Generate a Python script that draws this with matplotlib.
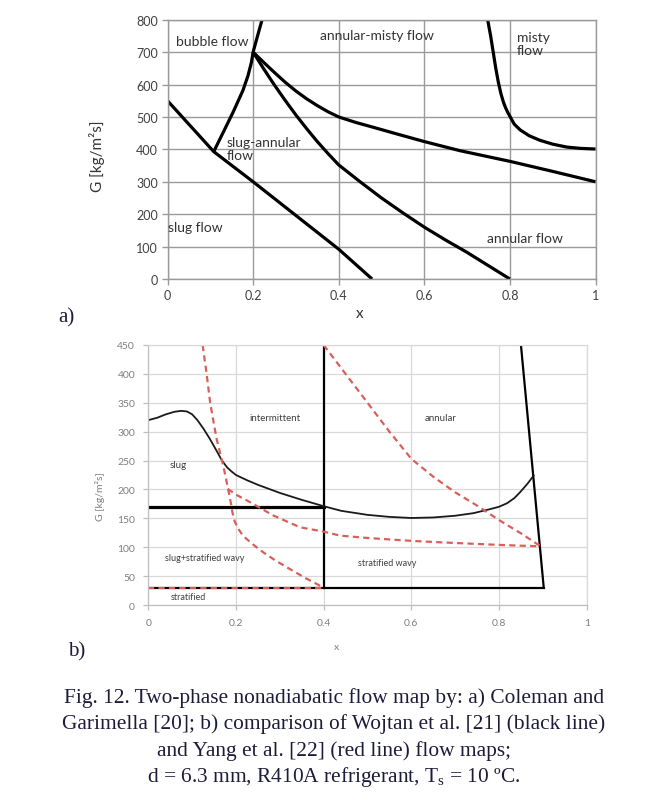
import matplotlib
matplotlib.use("Agg")
import matplotlib.pyplot as plt

plt.rcParams['font.family'] = ['Lato', 'DejaVu Sans']

# ---------------- data: a) Coleman & Garimella ----------------
ca_slug_x = [0, 0.108, 0.2, 0.3, 0.4, 0.478]
ca_slug_g = [550, 393, 300, 196, 92, 0]

ca_bubble_x = [0.108, 0.13, 0.153, 0.176, 0.188, 0.196, 0.2, 0.21, 0.221]
ca_bubble_g = [393, 452, 514, 581, 627, 668, 700, 748, 800]

ca_amisty_x = [0.2, 0.225, 0.25, 0.275, 0.3, 0.325, 0.35, 0.375, 0.4, 0.44, 0.481,
               0.54, 0.6, 0.683, 0.8, 0.9, 1.0]
ca_amisty_g = [700, 668, 637, 607, 580, 556, 535, 516, 500, 483, 468,
               446, 424, 396, 363, 332, 300]

ca_annular_x = [0.2, 0.225, 0.25, 0.275, 0.3, 0.325, 0.35, 0.375, 0.4, 0.45, 0.5,
                0.55, 0.6, 0.65, 0.7, 0.75, 0.8]
ca_annular_g = [700, 648, 598, 551, 506, 464, 424, 387, 352, 300, 250,
                204, 160, 120, 82, 41, 0]

ca_misty_x = [0.748, 0.755, 0.761, 0.767, 0.773, 0.779, 0.785, 0.79, 0.795, 0.8, 0.81,
              0.824, 0.845, 0.87, 0.9, 0.933, 0.965, 1.0]
ca_misty_g = [800, 750, 700, 650, 607, 572, 545, 528, 514, 502, 478,
              460, 442, 428, 416, 407, 403, 401]

# ---------------- data: b) Wojtan (black) & Yang (red) ----------------
wo_curve_x = [0, 0.02, 0.04, 0.06, 0.075, 0.088, 0.1, 0.112, 0.126, 0.14, 0.155, 0.168,
              0.18, 0.19, 0.2, 0.225, 0.25, 0.3, 0.35, 0.4, 0.44, 0.5, 0.55, 0.6, 0.65,
              0.7, 0.742, 0.78, 0.8, 0.818, 0.835, 0.849, 0.865, 0.879]
wo_curve_g = [320, 324, 330, 334.5, 336, 335, 330, 320, 305, 288, 268, 250,
              238, 231, 225, 216, 208, 194, 182, 171, 163, 156, 152.5, 150.6, 151.5,
              154.5, 159, 166, 170, 176, 185, 196, 210, 224]
wo_strat_x = [0, 0.902]
wo_strat_g = [30, 30]
wo_slug_x = [0, 0.4]
wo_slug_g = [170, 170]
wo_vert_x = [0.4, 0.4]
wo_vert_g = [30, 450]
wo_dry_x = [0.850, 0.902]
wo_dry_g = [450, 30]

yang1_x = [0.124, 0.133, 0.141, 0.148, 0.156, 0.164, 0.171, 0.179, 0.1865, 0.192,
           0.197, 0.205, 0.217, 0.24, 0.2626, 0.29, 0.3235, 0.36, 0.4]
yang1_g = [450, 400, 351, 320, 287, 262, 241, 212, 184, 160,
           145, 132, 119, 104, 91, 77, 62, 46, 30]
yang2_x = [0.181, 0.2, 0.232, 0.285, 0.346, 0.4, 0.438, 0.5, 0.6, 0.666, 0.8, 0.895]
yang2_g = [201, 191, 178, 155, 134.5, 127, 120, 116, 111, 108.5, 104, 101.5]
yang3_x = [0.4, 0.45, 0.5, 0.55, 0.6, 0.65, 0.7, 0.75, 0.8, 0.85, 0.895]
yang3_g = [450, 400, 350, 300, 253, 222, 195, 172, 147, 124, 101.5]
yang_strat_x = [0, 0.4]
yang_strat_g = [30, 30]

top_xticks = [0, 0.2, 0.4, 0.6, 0.8, 1]
top_xticklabels = ['0', '0.2', '0.4', '0.6', '0.8', '1']
top_yticks = list(range(0, 801, 100))
bot_xticks = [0, 0.2, 0.4, 0.6, 0.8, 1]
bot_xticklabels = ['0', '0.2', '0.4', '0.6', '0.8', '1']
bot_yticks = list(range(0, 451, 50))

W, H = 658, 803
fig = plt.figure(figsize=(W / 100, H / 100), dpi=100)


def fx(px):
    return px / W


def fy(py):
    return 1 - py / H


# ---------------- top chart ----------------
ax1 = fig.add_axes([fx(167.5), fy(280), (595.5 - 167.5) / W, (280 - 20.7) / H])
ax1.set_xlim(0, 1)
ax1.set_ylim(0, 800)
ax1.set_xticks(top_xticks)
ax1.set_xticklabels(top_xticklabels)
ax1.set_yticks(top_yticks)
ax1.grid(True, color='#9a9a9a', lw=1.0)
ax1.set_axisbelow(True)
for s in ax1.spines.values():
    s.set_color('#9a9a9a')
    s.set_linewidth(1.0)
ax1.tick_params(axis='both', direction='out', length=4, width=1.0, color='#9a9a9a',
                labelsize=9, labelcolor='#404040', pad=3)
lwt = 2.3
for xs, gs in [(ca_slug_x, ca_slug_g), (ca_bubble_x, ca_bubble_g),
               (ca_amisty_x, ca_amisty_g), (ca_annular_x, ca_annular_g),
               (ca_misty_x, ca_misty_g)]:
    ax1.plot(xs, gs, color='black', lw=lwt, solid_capstyle='butt',
             solid_joinstyle='round', clip_on=True)

tc = '#333333'
tfs = 10
ax1.text(0.105, 734, 'bubble flow', ha='center', va='center', fontsize=tfs, color=tc)
ax1.text(0.49, 753, 'annular-misty flow', ha='center', va='center', fontsize=tfs, color=tc)
ax1.text(0.816, 727, 'misty\nflow', ha='left', va='center', fontsize=tfs, color=tc,
         linespacing=1.15)
ax1.text(0.138, 404, 'slug-annular\nflow', ha='left', va='center', fontsize=tfs, color=tc,
         linespacing=1.1)
ax1.text(0.001, 160, 'slug flow', ha='left', va='center', fontsize=tfs, color=tc)
ax1.text(0.835, 126, 'annular flow', ha='center', va='center', fontsize=tfs, color=tc)

fig.text(fx(97), fy(156), 'G [kg/m²s]', rotation=90, ha='center', va='center',
         fontsize=11, color='#333333')
fig.text(fx(360), fy(314), 'x', ha='center', va='center', fontsize=11, color='#333333')

# ---------------- bottom chart ----------------
ax2 = fig.add_axes([fx(148.3), fy(606), (586.7 - 148.3) / W, (606 - 346) / H])
ax2.set_xlim(0, 1)
ax2.set_ylim(0, 450)
ax2.set_xticks(bot_xticks)
ax2.set_xticklabels(bot_xticklabels)
ax2.set_yticks(bot_yticks)
ax2.grid(True, color='#d9d9d9', lw=0.9)
ax2.set_axisbelow(True)
for s in ax2.spines.values():
    s.set_color('#d9d9d9')
    s.set_linewidth(0.9)
ax2.spines['bottom'].set_color('#bfbfbf')
ax2.spines['left'].set_color('#bfbfbf')
ax2.tick_params(axis='both', direction='out', length=3.5, width=0.9, color='#bfbfbf',
                labelsize=7.5, labelcolor='#7f7f7f', pad=6)

red = '#d9605a'
dash = (2.8, 1.9)
ax2.plot(wo_strat_x, wo_strat_g, color='black', lw=1.6)
ax2.plot(wo_slug_x, wo_slug_g, color='black', lw=2.3)
ax2.plot(wo_vert_x, wo_vert_g, color='black', lw=1.6)
ax2.plot(wo_dry_x, wo_dry_g, color='black', lw=1.6)
ax2.plot(wo_curve_x, wo_curve_g, color='#1a1a1a', lw=1.3, solid_joinstyle='round')
for xs, gs in [(yang1_x, yang1_g), (yang2_x, yang2_g), (yang3_x, yang3_g),
               (yang_strat_x, yang_strat_g)]:
    ax2.plot(xs, gs, color=red, lw=1.6, linestyle=(0, dash))

bc = '#404040'
bfs = 7
ax2.text(0.289, 325, 'intermittent', ha='center', va='center', fontsize=bfs, color=bc)
ax2.text(0.667, 325, 'annular', ha='center', va='center', fontsize=bfs, color=bc)
ax2.text(0.069, 244, 'slug', ha='center', va='center', fontsize=bfs, color=bc)
ax2.text(0.128, 83, 'slug+stratified wavy', ha='center', va='center', fontsize=bfs - 0.5, color=bc)
ax2.text(0.544, 74, 'stratified wavy', ha='center', va='center', fontsize=bfs - 0.5, color=bc)
ax2.text(0.092, 15, 'stratified', ha='center', va='center', fontsize=bfs - 0.5, color=bc)

fig.text(fx(100), fy(497), 'G [kg/m²s]', rotation=90, ha='center', va='center',
         fontsize=7.5, color='#7f7f7f')
fig.text(fx(336), fy(648), 'x', ha='center', va='center', fontsize=7.5, color='#7f7f7f')

# ---------------- panel labels & caption ----------------
cap = '#1c1c3a'
serif = ['Liberation Serif', 'DejaVu Serif']
fig.text(fx(58), fy(318), 'a)', ha='left', va='center', fontsize=15, color=cap, family=serif)
fig.text(fx(68), fy(652), 'b)', ha='left', va='center', fontsize=15, color=cap, family=serif)

caption_lines = [
    'Fig. 12. Two-phase nonadiabatic flow map by: a) Coleman and',
    'Garimella [20]; b) comparison of Wojtan et al. [21] (black line)',
    'and Yang et al. [22] (red line) flow maps;',
    'd = 6.3 mm, R410A refrigerant, T$_\\mathregular{s}$ = 10 ºC.',
]
for i, line in enumerate(caption_lines):
    fig.text(fx(334), fy(698 + 26.3 * i), line, ha='center', va='center',
             fontsize=15.4, color=cap, family=serif)

fig.savefig('out.png', dpi=100)
